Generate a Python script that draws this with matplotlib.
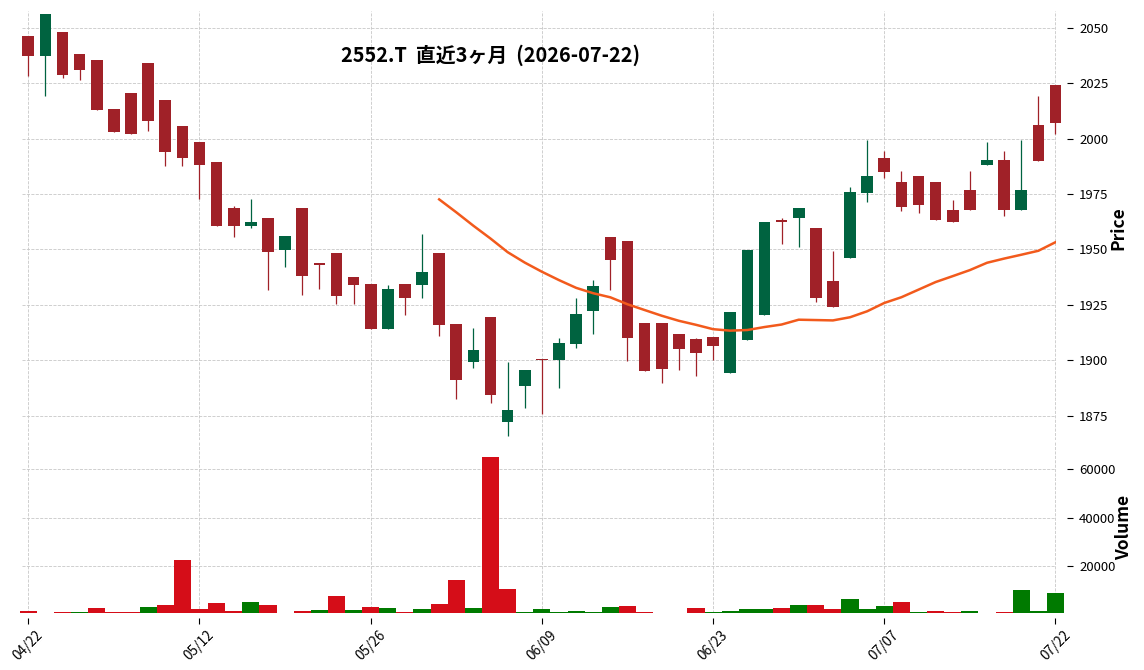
import numpy as np
import pandas as pd
import matplotlib
matplotlib.use("Agg")
import matplotlib.pyplot as plt
from matplotlib.patches import Rectangle

plt.rcParams['font.family'] = ['Noto Sans CJK JP', 'DejaVu Sans']

# --- data ---
holidays = ['2026-04-29', '2026-05-04', '2026-05-05', '2026-05-06', '2026-07-20']
days = pd.bdate_range('2026-04-22', '2026-07-22')
days = days[~days.isin(pd.to_datetime(holidays))]

opens = [2046.3, 2037.0, 2048.1, 2038.2, 2035.5, 2013.4, 2020.6, 2034.1, 2017.5, 2005.8,
         1998.6, 1989.6, 1968.9, 1960.4, 1964.0, 1949.7, 1968.9, 1944.0, 1948.2, 1937.4,
         1934.3, 1914.1, 1934.3, 1934.0, 1948.2, 1916.3, 1899.4, 1919.5, 1872.4, 1888.6,
         1900.5, 1900.3, 1907.6, 1922.3, 1955.6, 1953.6, 1916.9, 1916.9, 1911.8, 1909.6,
         1910.6, 1894.3, 1909.3, 1920.5, 1963.5, 1964.1, 1959.5, 1935.6, 1946.1, 1975.4,
         1991.4, 1980.6, 1983.3, 1980.6, 1967.6, 1976.6, 1988.0, 1990.3, 1968.0, 2006.1,
         2024.2]
highs = [2046.3, 2056.1, 2048.1, 2038.2, 2035.5, 2013.4, 2020.6, 2034.1, 2017.5, 2005.8,
         1998.6, 1989.6, 1969.8, 1972.8, 1964.0, 1955.9, 1968.9, 1944.0, 1948.2, 1937.4,
         1934.3, 1934.1, 1934.3, 1957.1, 1948.2, 1916.3, 1914.4, 1919.5, 1899.4, 1895.6,
         1900.5, 1910.3, 1928.3, 1936.2, 1955.6, 1953.6, 1916.9, 1916.9, 1911.8, 1910.3,
         1910.6, 1921.7, 1949.7, 1962.6, 1964.3, 1968.5, 1959.5, 1949.3, 1978.2, 1999.2,
         1994.5, 1985.4, 1983.3, 1980.6, 1972.4, 1985.4, 1998.4, 1994.2, 1999.2, 2019.0,
         2024.2]
lows = [2028.0, 2019.0, 2027.2, 2026.2, 2013.0, 2003.1, 2002.2, 2003.2, 1987.5, 1987.5,
        1972.8, 1960.4, 1955.7, 1959.6, 1931.9, 1942.2, 1929.3, 1932.1, 1925.3, 1925.3,
        1914.1, 1914.1, 1920.4, 1928.3, 1911.1, 1882.6, 1896.4, 1880.6, 1866.1, 1878.4,
        1876.0, 1887.4, 1905.4, 1911.8, 1931.6, 1899.5, 1895.3, 1889.6, 1895.6, 1892.8,
        1900.3, 1894.3, 1909.3, 1920.5, 1952.6, 1951.2, 1926.5, 1924.0, 1946.1, 1971.5,
        1982.3, 1967.4, 1966.5, 1963.2, 1962.3, 1968.0, 1988.0, 1965.0, 1968.0, 1990.0,
        2002.0]
closes = [2037.0, 2056.1, 2028.7, 2031.0, 2013.0, 2003.1, 2002.2, 2008.0, 1994.1, 1991.4,
          1988.2, 1960.4, 1960.4, 1962.2, 1948.7, 1955.9, 1938.0, 1942.8, 1929.0, 1934.0,
          1914.1, 1932.0, 1928.0, 1940.0, 1916.0, 1891.3, 1904.6, 1884.4, 1877.6, 1895.6,
          1900.0, 1907.8, 1920.8, 1933.4, 1945.2, 1910.2, 1895.3, 1896.1, 1905.2, 1903.4,
          1906.6, 1921.7, 1949.7, 1962.6, 1962.3, 1968.5, 1928.0, 1924.0, 1975.7, 1983.3,
          1985.1, 1969.1, 1970.0, 1963.2, 1962.3, 1968.0, 1990.3, 1968.0, 1976.6, 1990.0,
          2006.8]
volumes = [1600, 400, 1200, 1200, 2800, 1200, 1200, 3200, 4000, 22600,
           2400, 4900, 1600, 5300, 4000, 400, 1600, 2000, 7750, 2000,
           3200, 2800, 1200, 2400, 4400, 14300, 2800, 65200, 10800, 1200,
           2400, 1200, 1600, 1200, 3200, 3800, 1200, 400, 400, 2800,
           1200, 1600, 2400, 2400, 2800, 4000, 4000, 2400, 6500, 2400,
           3600, 5300, 1200, 1600, 1200, 1600, 400, 1200, 10100, 1600,
           8900]

ma_window = 25
title = '2552.T  直近3ヶ月  (2026-07-22)'

UP, DOWN = '#006340', '#A02128'
VUP, VDOWN = '#007a00', '#d50d18'
MA_COLOR = '#f25a1c'
GRID = dict(color='#c8c8c8', linestyle='--', linewidth=0.6)

df = pd.DataFrame({'Open': opens, 'High': highs, 'Low': lows,
                   'Close': closes, 'Volume': volumes}, index=days)
df['MA'] = df['Close'].rolling(ma_window).mean()
x = np.arange(len(df))

W, H = 1144, 670
fig = plt.figure(figsize=(W / 100, H / 100), dpi=100)
left, right = 21.7 / W, 1055.5 / W
ax = fig.add_axes([left, 1 - 440 / H, right - left, (440 - 11) / H])
axv = fig.add_axes([left, 1 - 612.5 / H, right - left, (612.5 - 442) / H], sharex=ax)

# candles
bw = 0.68
for i, (o, h, l, c) in enumerate(zip(df.Open, df.High, df.Low, df.Close)):
    col = UP if c >= o else DOWN
    ax.vlines(i, l, h, color=col, linewidth=0.9, zorder=2, clip_on=False)
    ax.add_patch(Rectangle((i - bw / 2, min(o, c)), bw, max(abs(c - o), 0.6),
                           facecolor=col, edgecolor='none', zorder=3, clip_on=False))

ax.plot(x, df['MA'], color=MA_COLOR, linewidth=1.8, zorder=4)

# volume colour follows close vs previous close
vlo, vhi = 950, 71300
prev = df['Close'].shift(1).fillna(df['Open'])
vcols = [VUP if c > p else VDOWN for c, p in zip(df.Close, prev)]
vheights = np.clip(df['Volume'].to_numpy() - vlo, 0, None)
axv.bar(x, vheights, bottom=vlo, width=1.0, color=vcols, linewidth=0, clip_on=False)

ax.set_xlim(-0.385, len(df) - 1)
ax.set_ylim(1864.1, 2057.5)
axv.set_ylim(vlo, vhi)

tick_pos = list(range(0, len(df), 10))
tick_lab = [days[i].strftime('%m/%d') for i in tick_pos]

for a in (ax, axv):
    for s in a.spines.values():
        s.set_visible(False)
    a.spines['right'].set_position(('outward', 8))
    a.spines['bottom'].set_position(('outward', 4))
    a.yaxis.tick_right()
    a.grid(True, **GRID)
    a.set_axisbelow(True)
    a.tick_params(axis='y', direction='out', length=4, width=0.8, pad=5, labelsize=9.5)
    a.set_xticks(tick_pos)

ax.set_yticks([1875, 1900, 1925, 1950, 1975, 2000, 2025, 2050])
ax.tick_params(axis='x', length=0, labelbottom=False)
axv.set_yticks([20000, 40000, 60000])
axv.set_xticklabels(tick_lab, rotation=45, ha='center')
axv.tick_params(axis='x', direction='out', length=4, width=0.8, pad=3, labelsize=9.8)

fig.text(491 / W, 1 - 55 / H, title, ha='center', va='center',
         fontsize=14.3, fontweight='bold')
fig.text(1118 / W, 1 - 228 / H, 'Price', rotation=90, ha='center', va='center',
         fontsize=12.5, fontweight='bold')
fig.text(1124 / W, 1 - 527 / H, 'Volume', rotation=90, ha='center', va='center',
         fontsize=12.5, fontweight='bold')

fig.savefig('out.png', dpi=100)
